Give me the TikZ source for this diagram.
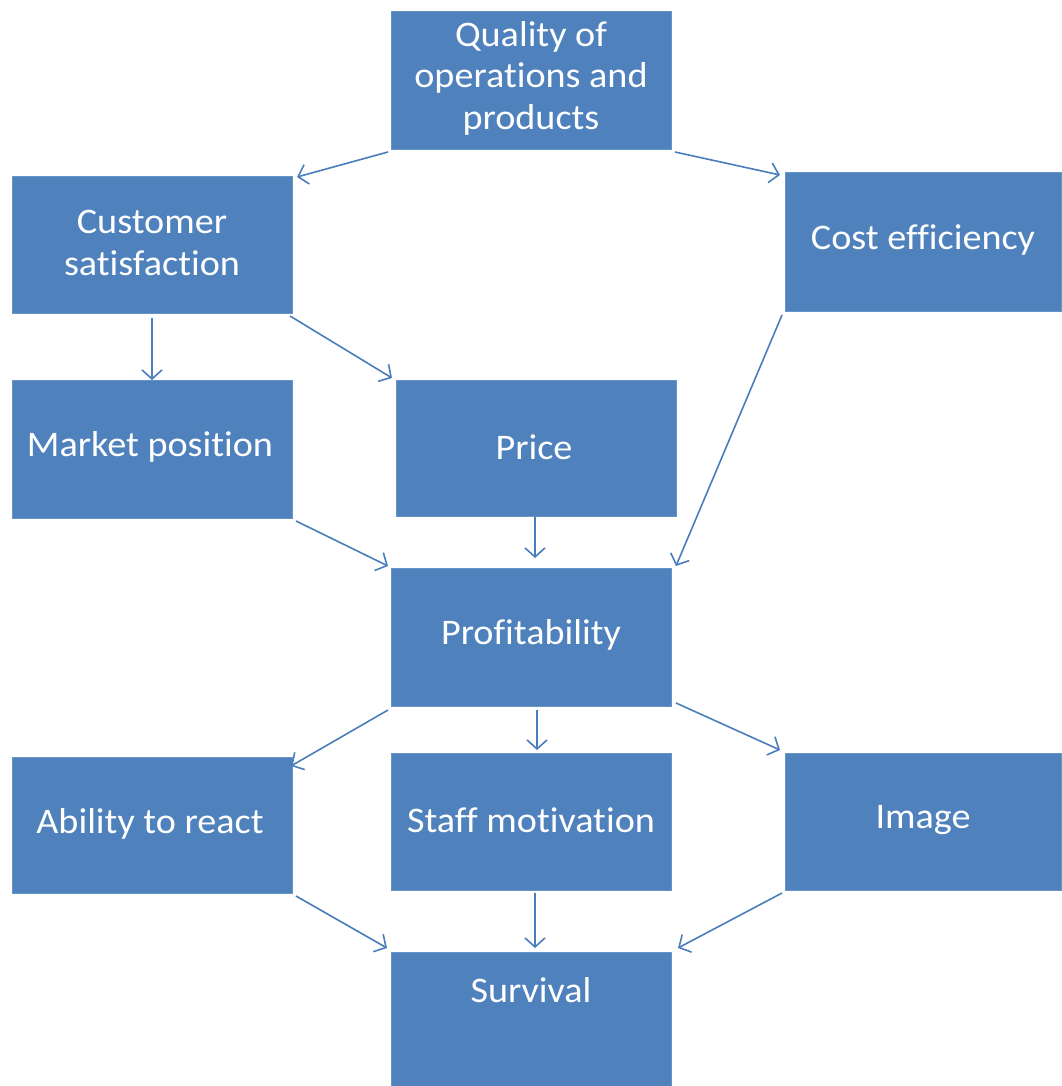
\documentclass[tikz,border=0pt]{standalone}
\usepackage{fontspec}
\setmainfont{Carlito}[Ligatures={NoCommon},FakeStretch=1.06]
\usetikzlibrary{arrows.meta}
\definecolor{boxblue}{HTML}{4F81BD}
\definecolor{arrblue}{HTML}{4A7EBB}
\begin{document}
\begin{tikzpicture}[x=1pt,y=-1pt,
  box/.style={fill=boxblue,draw=boxblue!85!white,line width=1pt,text=white,align=center,
    font=\fontsize{36}{41.5}\selectfont,inner sep=0pt},
  lbl/.style={text=white,align=center,font=\fontsize{36}{41.5}\selectfont,inner sep=0pt},
  conn/.style={draw=arrblue,line width=1.6pt,-{Straight Barb[length=9pt,width=20pt,line width=1.6pt]}}]
\useasboundingbox[fill=white] (0,0) rectangle (1061,1086);
% boxes
\path[box] (391,12) rectangle (671,150);
\node[lbl] (qual) at (531,78) {Quality of\\operations and\\products};
\path[box] (12,177) rectangle (292,313);
\node[lbl] (cust) at (152,243) {Customer\\satisfaction};
\path[box] (785,173) rectangle (1061,311);
\node[lbl] (cost) at (923,240) {Cost efficiency};
\path[box] (12,380) rectangle (292,518);
\node[lbl] (mark) at (150,447) {Market position};
\path[box] (396,380) rectangle (676,516);
\node[lbl] (price) at (534,447) {Price};
\path[box] (391,568) rectangle (671,706);
\node[lbl] (prof) at (531,635) {Profitability};
\path[box] (12,757) rectangle (292,893);
\node[lbl] (abil) at (150,824) {Ability to react};
\path[box] (391,753) rectangle (671,890);
\node[lbl] (staff) at (531,820) {Staff motivation};
\path[box] (785,753) rectangle (1061,890);
\node[lbl] (img) at (923,820) {Image};
\path[box] (391,952) rectangle (671,1090);
\node[lbl] (surv) at (531,990) {Survival};
% connector endpoints
\coordinate (a1s) at (388,152); \coordinate (a1e) at (297,177);
\coordinate (a2s) at (675,152); \coordinate (a2e) at (780,175);
\coordinate (a3s) at (152,318); \coordinate (a3e) at (152,380);
\coordinate (a4s) at (290,316); \coordinate (a4e) at (392,378);
\coordinate (a5s) at (782,315); \coordinate (a5e) at (676,566);
\coordinate (a6s) at (296,521); \coordinate (a6e) at (388,566);
\coordinate (a7s) at (535,517); \coordinate (a7e) at (535,558);
\coordinate (a8s) at (388,710); \coordinate (a8e) at (291,766);
\coordinate (a9s) at (537,710); \coordinate (a9e) at (537,750);
\coordinate (a10s) at (676,703); \coordinate (a10e) at (780,750);
\coordinate (a11s) at (296,896); \coordinate (a11e) at (387,948);
\coordinate (a12s) at (535,893); \coordinate (a12e) at (535,948);
\coordinate (a13s) at (782,893); \coordinate (a13e) at (678,948);
\foreach \i in {1,...,13}{\draw[conn] (a\i s) -- (a\i e);}
\end{tikzpicture}
\end{document}
